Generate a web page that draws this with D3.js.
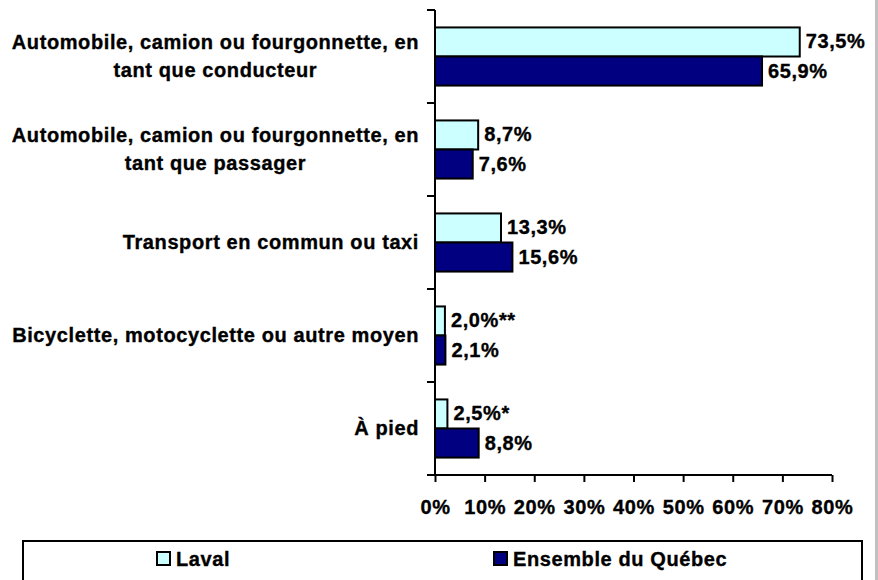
<!DOCTYPE html>
<html>
<head>
<meta charset="utf-8">
<script src="https://cdn.jsdelivr.net/npm/d3@7"></script>
<style>
  html, body { margin: 0; padding: 0; background: #fff; }
  svg { display: block; }
  text { font-family: "Liberation Sans", Arial, sans-serif; font-weight: bold; font-size: 20px; letter-spacing: 0.6px; fill: #000; stroke: #000; stroke-width: 0.35px; }
</style>
</head>
<body>
<svg id="chart" width="878" height="580"></svg>
<script>
// Mode de transport pour se rendre au travail (%)
const categories = [
  ["Automobile, camion ou fourgonnette, en", "tant que conducteur"],
  ["Automobile, camion ou fourgonnette, en", "tant que passager"],
  ["Transport en commun ou taxi"],
  ["Bicyclette, motocyclette ou autre moyen"],
  ["À pied"]
];
const seriesNames = ["Laval", "Ensemble du Québec"];
const laval = [73.5, 8.7, 13.3, 2.0, 2.5];
const quebec = [65.9, 7.6, 15.6, 2.1, 8.8];
const lavalNotes = ["", "", "", "**", "*"];
const quebecNotes = ["", "", "", "", ""];
const xTicks = [0, 10, 20, 30, 40, 50, 60, 70, 80];
const colors = ["#CCFFFF", "#000080"];

const svg = d3.select("#chart");
const fmt = v => d3.format(".1f")(v).replace(".", ",") + "%";

const plotLeft = 435, plotRight = 832, plotTop = 10, plotBottom = 475;
const catIds = categories.map((c, i) => i);

const x = d3.scaleLinear().domain([0, 80]).range([plotLeft, plotRight]);
const y0 = d3.scaleBand().domain(catIds).range([plotTop, plotBottom]);
const y1 = d3.scaleBand().domain(seriesNames).range([0, y0.bandwidth()]).paddingOuter(0.6);

// grey strip on the right edge
svg.append("rect").attr("x", 875).attr("y", 0).attr("width", 3).attr("height", 580).attr("fill", "#c0c0c0");

// bars
const rows = catIds.map(i => [
  { s: seriesNames[0], v: laval[i], note: lavalNotes[i], c: colors[0] },
  { s: seriesNames[1], v: quebec[i], note: quebecNotes[i], c: colors[1] }
]);

const g = svg.selectAll("g.cat").data(rows).join("g")
  .attr("class", "cat")
  .attr("transform", (d, i) => `translate(0,${y0(i)})`);

g.selectAll("rect").data(d => d).join("rect")
  .attr("x", x(0))
  .attr("y", d => y1(d.s))
  .attr("width", d => x(d.v) - x(0))
  .attr("height", y1.bandwidth())
  .attr("fill", d => d.c)
  .attr("stroke", "#000")
  .attr("stroke-width", 2);

g.selectAll("text.val").data(d => d).join("text")
  .attr("class", "val")
  .attr("x", d => x(d.v) + 6)
  .attr("y", d => y1(d.s) + y1.bandwidth() / 2 + 6.5)
  .text(d => fmt(d.v) + d.note);

// y axis with ticks between categories
const yAxis = svg.append("g");
yAxis.append("line").attr("x1", plotLeft).attr("x2", plotLeft).attr("y1", plotTop).attr("y2", plotBottom)
  .attr("stroke", "#000").attr("stroke-width", 2);
const bounds = catIds.map(i => y0(i)).concat([plotBottom]);
yAxis.selectAll("line.t").data(bounds).join("line").attr("class", "t")
  .attr("x1", plotLeft - 8).attr("x2", plotLeft).attr("y1", d => d).attr("y2", d => d)
  .attr("stroke", "#000").attr("stroke-width", 2);

// category labels
const labelRight = 419;
const lineGap = 28;
catIds.forEach(i => {
  const lines = categories[i];
  const cy = y0(i) + y0.bandwidth() / 2;
  const grp = svg.append("g");
  const texts = lines.map((ln, k) => grp.append("text")
    .attr("y", cy + (k - (lines.length - 1) / 2) * lineGap + 6)
    .text(ln));
  const widths = texts.map(t => t.node().getComputedTextLength());
  const w = d3.max(widths);
  texts.forEach(t => t.attr("x", labelRight - w / 2).attr("text-anchor", "middle"));
});

// x axis
const xAxis = d3.axisBottom(x).tickValues(xTicks).tickSize(7).tickFormat(d => d + "%");
const xg = svg.append("g").attr("transform", `translate(0,${plotBottom})`).call(xAxis);
xg.select(".domain").attr("stroke", "#000").attr("stroke-width", 2).attr("d", `M${plotLeft},0H${plotRight}`);
xg.selectAll(".tick line").attr("stroke", "#000").attr("stroke-width", 2);
xg.selectAll(".tick text").attr("y", 0).attr("dy", null).attr("transform", "translate(0,39)")
  .style("font-family", "'Liberation Sans', Arial, sans-serif").style("font-size", "20px").style("font-weight", "bold");

// legend
svg.append("rect").attr("x", 23).attr("y", 541).attr("width", 839).attr("height", 60)
  .attr("fill", "#fff").attr("stroke", "#000").attr("stroke-width", 2);
const legendItems = [
  { name: seriesNames[0], c: colors[0], x: 157 },
  { name: seriesNames[1], c: colors[1], x: 494 }
];
const lg = svg.selectAll("g.leg").data(legendItems).join("g").attr("class", "leg");
lg.append("rect").attr("x", d => d.x).attr("y", 552).attr("width", 13).attr("height", 13)
  .attr("fill", d => d.c).attr("stroke", "#000").attr("stroke-width", 2);
lg.append("text").attr("x", d => d.x + 19).attr("y", 566).text(d => d.name);
</script>
</body>
</html>
